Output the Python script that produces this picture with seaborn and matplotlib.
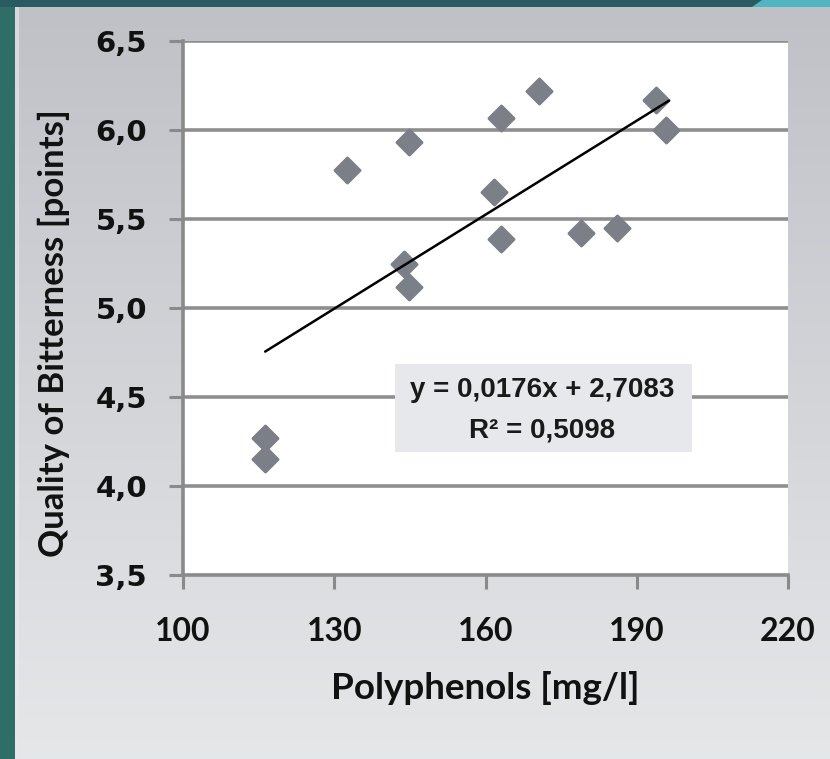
import numpy as np
import pandas as pd
import matplotlib
matplotlib.use("Agg")
import matplotlib.pyplot as plt
from matplotlib.patches import Rectangle, Polygon
import seaborn as sns

# Polyphenol content vs. sensory bitterness quality
polyphenols = [116.3, 116.3, 132.6, 144.9, 143.9, 144.9, 161.6,
               163.0, 163.0, 170.7, 178.9, 186.0, 193.8, 195.8]
bitterness = [4.27, 4.15, 5.775, 5.93, 5.25, 5.12, 5.65,
              6.07, 5.39, 6.22, 5.42, 5.45, 6.17, 6.00]

# Linear trend as reported in the equation box
slope = 0.0176
intercept = 2.7083
r_squared = 0.5098

x_ticks = [100, 130, 160, 190, 220]
y_ticks = [3.5, 4.0, 4.5, 5.0, 5.5, 6.0, 6.5]
y_tick_labels = ["3,5", "4,0", "4,5", "5,0", "5,5", "6,0", "6,5"]

df = pd.DataFrame({"Polyphenols": polyphenols, "Bitterness": bitterness})

sns.set_theme(style="white")
plt.rcParams["font.family"] = ["Lato", "DejaVu Sans"]

W, H = 830, 759
fig = plt.figure(figsize=(W / 100, H / 100), dpi=100)

# Slide-style backdrop: grey gradient panel with teal border strips
bg = fig.add_axes([0, 0, 1, 1], zorder=-10)
bg.set_xlim(0, W)
bg.set_ylim(H, 0)
bg.axis("off")
grad = np.linspace(0, 1, 256).reshape(-1, 1)
top_c = np.array([0.749, 0.757, 0.780])
bot_c = np.array([0.898, 0.906, 0.914])
img = top_c + (bot_c - top_c) * grad
bg.imshow(img[:, None, :].repeat(2, axis=1), extent=[15, W, H, 7],
          aspect="auto", interpolation="bilinear")
bg.add_patch(Rectangle((0, 0), 15, H, color="#2f6d67", lw=0))
bg.add_patch(Rectangle((15, 7), 4, H, color="#e9eaee", lw=0, alpha=0.6))
bg.add_patch(Rectangle((0, 0), W, 7, color="#285c60", lw=0))
bg.add_patch(Polygon([(752, 7), (762, 0), (W, 0), (W, 7)],
                     closed=True, color="#52b6c2", lw=0))

ax = fig.add_axes([183 / W, 1 - 575 / H, (788 - 183) / W, (575 - 41) / H])
ax.set_facecolor("white")

sns.scatterplot(data=df, x="Polyphenols", y="Bitterness", ax=ax,
                marker="D", s=165, color="#7b7f87", edgecolor="#7b7f87",
                linewidth=2, zorder=3)
for coll in ax.collections:
    coll.set_joinstyle("round")

xs = np.array([min(polyphenols), 196.4])
ax.plot(xs, slope * xs + intercept, color="black", lw=1.8, zorder=4)

ax.set_xlim(100, 220)
ax.set_ylim(3.5, 6.5)
ax.set_xticks(x_ticks)
ax.set_yticks(y_ticks)
ax.set_yticklabels(y_tick_labels)

for y in y_ticks[1:]:
    ax.axhline(y, color="#8e8e8e", lw=2.6, zorder=1)

for side in ["top", "right"]:
    ax.spines[side].set_visible(False)
for side in ["left", "bottom"]:
    ax.spines[side].set_color("#8a8a8a")
    ax.spines[side].set_linewidth(2.6)

ax.tick_params(axis="both", direction="out", length=10, width=2.2,
               color="#8a8a8a", left=True, bottom=True)
ax.tick_params(axis="x", pad=20)
ax.tick_params(axis="y", pad=16)
for lab in ax.get_xticklabels():
    lab.set_fontsize(23)
    lab.set_fontweight("bold")
    lab.set_color("#111111")
for lab in ax.get_yticklabels():
    lab.set_fontfamily("DejaVu Sans")
    lab.set_fontsize(21)
    lab.set_fontweight("bold")
    lab.set_color("#111111")

ax.set_xlabel("Polyphenols [mg/l]", fontsize=26.5, fontweight="bold",
              color="#111111", labelpad=18)
ax.set_ylabel("Quality of Bitterness [points]", fontsize=25,
              fontweight="bold", color="#111111")
ax.yaxis.set_label_coords(-0.187, 0.453)

# Equation box
box = Rectangle((395, 364), 297, 88, transform=bg.transData,
                color="#e7e8eb", lw=0, zorder=5)
fig.add_artist(box)
fig.text(542 / W, 1 - 390 / H, "y = 0,0176x + 2,7083",
         family="Liberation Sans", fontsize=20, fontweight="bold",
         ha="center", va="center", color="#1a1a1a", zorder=6)
fig.text(542 / W, 1 - 431 / H, f"R\u00b2 = {r_squared:.4f}".replace(".", ","),
         family="Liberation Sans", fontsize=20, fontweight="bold",
         ha="center", va="center", color="#1a1a1a", zorder=6)

fig.savefig("out.png", dpi=100)
